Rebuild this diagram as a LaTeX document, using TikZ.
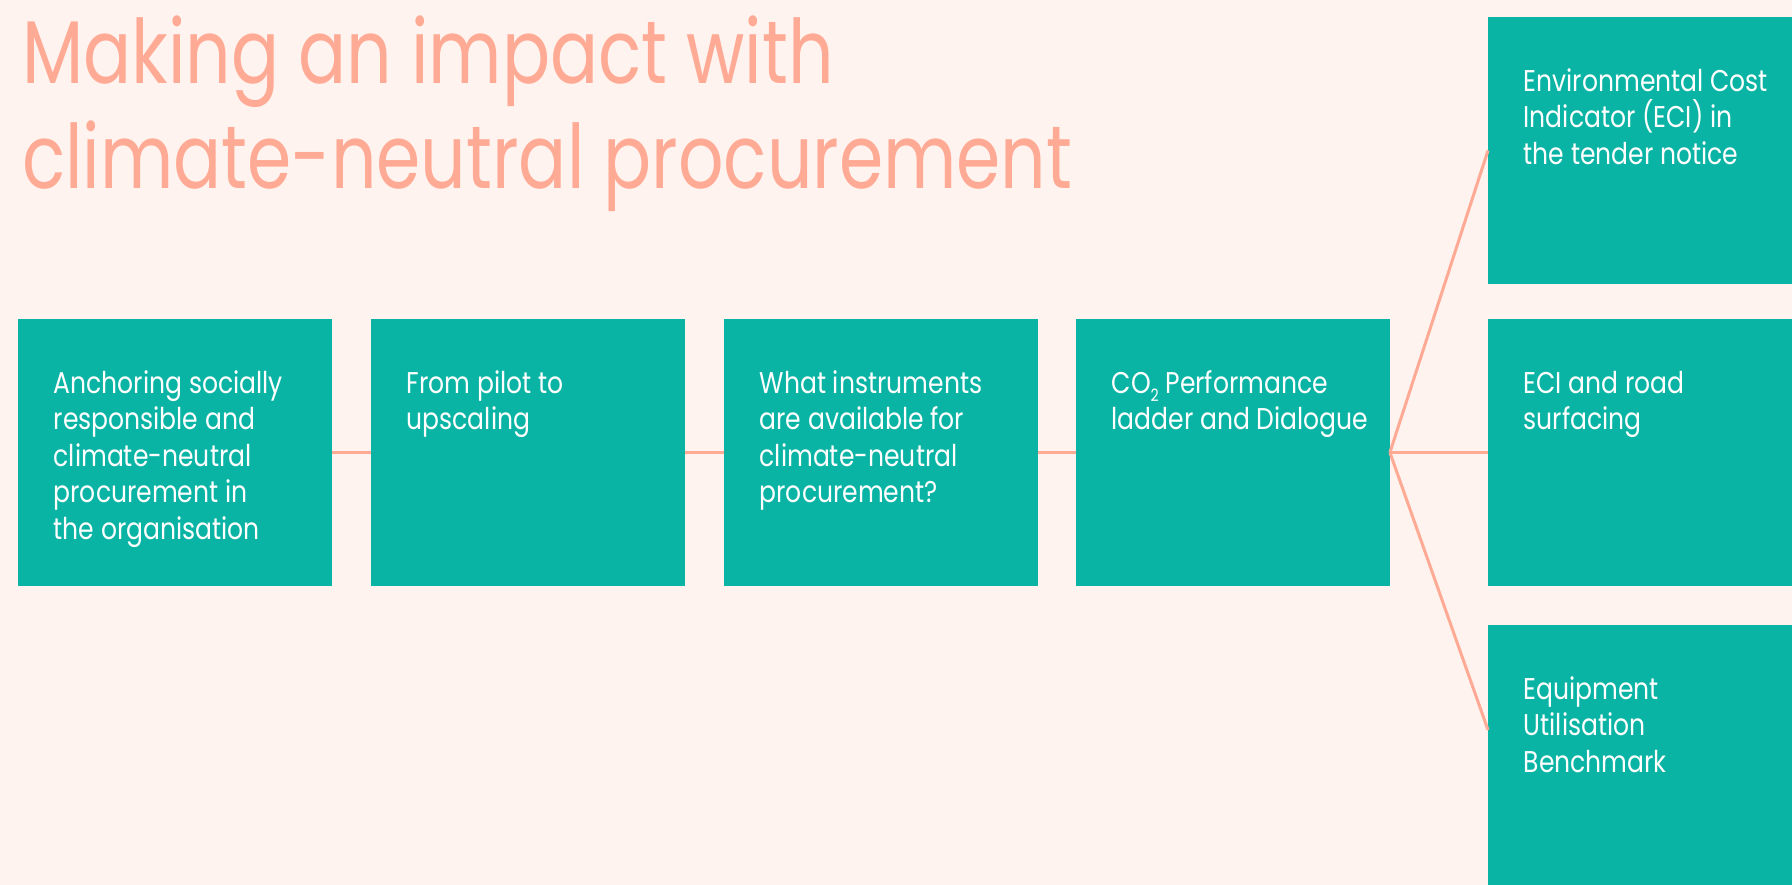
\documentclass[tikz,border=0pt]{standalone}
\usepackage{fontspec}
\setmainfont{Poppins}[FakeStretch=0.835]
\newfontfamily\titlefont{Poppins}[FakeStretch=0.80]
\usetikzlibrary{calc}
\definecolor{bgpink}{HTML}{FFF3EF}
\definecolor{tealbox}{HTML}{0AB4A5}
\definecolor{salmon}{HTML}{FFAA94}
\newcommand{\subtwo}{\raisebox{-8.4pt}{\fontsize{17}{17}\selectfont 2}}
\begin{document}
\begin{tikzpicture}[x=1pt,y=-1pt,
  box/.style={fill=tealbox, draw=none, minimum width=313.5pt, minimum height=266.5pt, anchor=north west, inner sep=0pt},
  boxtext/.style={anchor=base west, inner sep=0pt, align=left, text=white, font=\fontsize{30}{36.5}\selectfont},
  link/.style={draw=salmon, line width=3pt}]
\useasboundingbox (0,0) rectangle (1792,885);
\fill[bgpink] (0,0) rectangle (1792,885);
\clip (0,0) rectangle (1792,885);
% title (anchored at the baseline of its last line)
\node[anchor=base west, inner sep=0pt, align=left, text=salmon, font=\titlefont\fontsize{89}{105.4}\selectfont] (title) at (22,188.7) {Making an impact with\\climate-neutral procurement};
% boxes
\node[box] (b1) at (18,319) {};
\node[box] (b2) at (371,319) {};
\node[box] (b3) at (724,319) {};
\node[box] (b4) at (1076,319) {};
\node[box] (b5) at (1488,17) {};
\node[box] (b6) at (1488,319) {};
\node[box] (b7) at (1488,625) {};
% connectors
\coordinate (f7) at ($(b7.north west)+(0,105)$);
\draw[link] (b1.east) -- (b2.west);
\draw[link] (b2.east) -- (b3.west);
\draw[link] (b3.east) -- (b4.west);
\draw[link] (b4.east) -- (b5.west);
\draw[link] (b4.east) -- (b6.west);
\draw[link] (b4.east) -- (f7);
% texts (anchored at the baseline of their last line)
\node[boxtext] (t1) at ($(b1.north west)+(35.5,220.3)$) {Anchoring socially\\responsible and\\climate-neutral\\procurement in\\the organisation};
\node[boxtext] (t2) at ($(b2.north west)+(35.5,110.8)$) {From pilot to\\upscaling};
\node[boxtext] (t3) at ($(b3.north west)+(35.5,183.8)$) {What instruments\\are available for\\climate-neutral\\procurement?};
\node[boxtext] (t4) at ($(b4.north west)+(35.5,110.8)$) {CO\subtwo\ Performance\\ladder and Dialogue};
\node[boxtext] (t5) at ($(b5.north west)+(35.5,147.3)$) {Environmental Cost\\Indicator (ECI) in\\the tender notice};
\node[boxtext] (t6) at ($(b6.north west)+(35.5,110.8)$) {ECI and road\\surfacing};
\node[boxtext] (t7) at ($(b7.north west)+(35.5,147.3)$) {Equipment\\Utilisation\\Benchmark};
\end{tikzpicture}
\end{document}
